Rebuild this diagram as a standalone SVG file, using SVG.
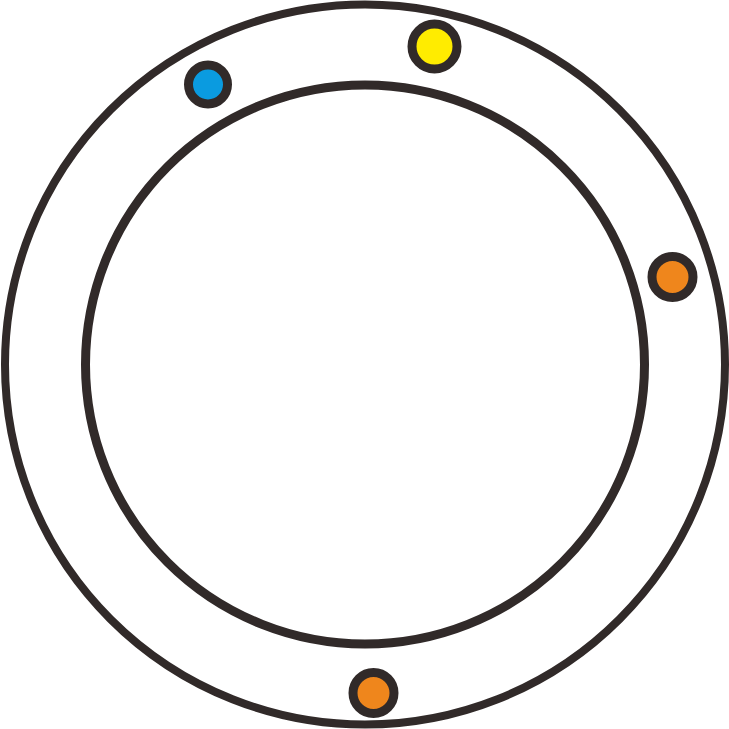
<svg xmlns="http://www.w3.org/2000/svg" width="729" height="729" viewBox="0 0 729 729">
<style>
.ring{fill:none;stroke:#312a29;stroke-width:8}
.dot{stroke:#312a29;stroke-width:9}
</style>
<rect width="729" height="729" fill="#fff"/>
<g id="outer"><circle class="ring" cx="365" cy="364.5" r="360"/></g>
<g id="inner"><circle class="ring" cx="365" cy="364.5" r="279.5" style="stroke-width:9"/></g>
<g id="dot-blue"><circle class="dot" cx="208" cy="84.5" r="19.5" fill="#0a9be0"/></g>
<g id="dot-yellow"><circle class="dot" cx="434.5" cy="46.5" r="22.5" fill="#ffec00"/></g>
<g id="dot-orange-right"><circle class="dot" cx="672.5" cy="277" r="20.5" fill="#ef861c"/></g>
<g id="dot-orange-bottom"><circle class="dot" cx="373.5" cy="693" r="20.5" fill="#ef861c"/></g>
</svg>
